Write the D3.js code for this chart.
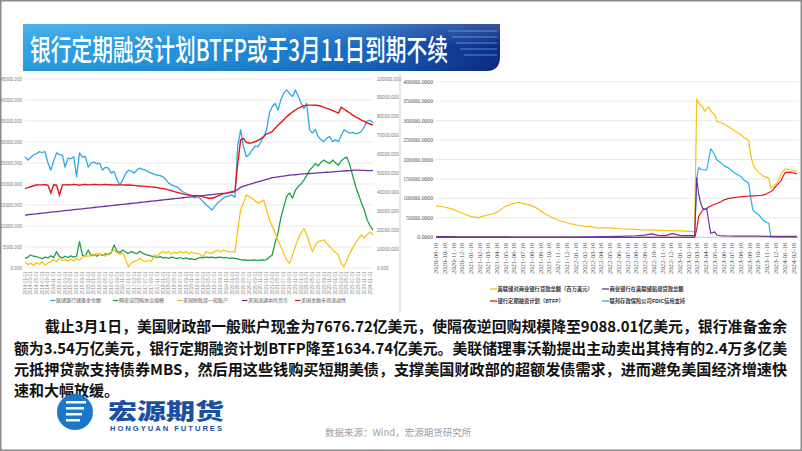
<!DOCTYPE html>
<html><head><meta charset="utf-8">
<script src="https://cdn.jsdelivr.net/npm/d3@7/dist/d3.min.js"></script>
<style>body{margin:0;background:#fff;}svg{display:block;}</style>
</head><body>
<svg id="c" width="802" height="451"></svg>
<script>
// ---------------- DATA ----------------
const titleText = "银行定期融资计划BTFP或于3月11日到期不续";
// left chart: monthly, 2014-01 .. 2024-02
const leftStart = "2014-01-01", leftEnd = "2024-02-01";
const leftSeriesNames = ["联储银行储备金余额","隔夜逆回购协议规模","美国财政部一般账户","美国流通中的货币","美国金融市场流动性"];
const reserves = [26500,25700,26300,26900,27200,27700,27500,27700,25000,23300,25500,27400,
 27000,26900,24000,26200,26000,26500,21700,27400,26400,26600,24000,25000,
 25200,24800,25000,23300,24000,23800,22600,23000,21000,19800,21000,22500,
 23300,23000,22600,23400,23800,23500,23300,22800,22600,22300,22100,22000,
 21700,21000,20200,19800,19500,19300,18700,18100,17800,17400,17000,16700,
 17000,16500,15800,15000,14500,13800,14600,15500,16000,16700,17000,17200,
 17400,16800,29000,32900,28900,26500,27000,28100,29000,28900,30000,31300,
 32900,37000,38400,39200,37600,40000,41600,42400,41500,40800,42400,41000,
 39200,38000,39200,32900,32100,33000,31300,30500,30100,31000,31300,30100,
 30500,30100,31500,32900,32500,32100,32300,32000,32100,32500,33600,35000,
 35200,34600];
const reverseRepo = [2300,2600,3100,2800,2700,2500,2200,2600,2400,2900,2500,3900,
 2700,2400,2800,2500,2900,2600,2800,6300,3000,2800,4300,2900,
 3200,2800,3300,3000,3400,3200,3600,5500,4000,3700,4300,3800,
 3500,3900,3600,3400,4000,3500,3200,3000,2800,2700,2500,2700,
 2400,2500,2300,2600,2400,2300,2500,2200,2400,2100,2200,2000,
 2300,2500,2400,2600,2500,2600,2400,2500,2600,2400,2500,2300,
 2400,2300,2200,2000,1900,1900,1800,1900,1900,1800,1900,1900,
 2000,2600,3100,6000,8300,12000,14500,17000,17900,16600,18500,19400,
 20000,21000,22000,23300,24000,24900,24300,25200,25700,25200,24900,25700,
 25000,24500,25500,26100,26400,24500,22000,19400,17500,15500,13800,11500,
 10000,9000];
const tga = [1500,800,1200,600,1300,900,1500,700,1200,1500,2000,1500,
 2300,1800,2000,1600,2100,1700,2300,1900,2500,3000,2700,3300,
 2900,3500,3100,3300,2800,3400,3800,4300,3600,3200,3700,2000,
 300,1200,1500,1800,2300,1700,1500,1900,1600,3100,2800,3500,
 3900,3600,3900,3300,3800,3500,3900,3600,3900,3400,3800,3500,
 3500,3200,2700,3900,3600,3500,3900,4300,3800,4300,4000,3900,
 3900,3800,9000,13800,15500,17400,17000,16600,16000,15400,15800,16200,
 13800,11400,10000,8300,6500,5100,3500,1900,1100,3000,5100,7000,
 8300,9400,8000,5900,3900,5500,6300,6500,6700,5800,5100,4300,
 3700,3100,1100,300,2000,3500,4800,5900,7000,7900,7100,8000,
 8600,7900];
const currency = [12600,12680,12750,12820,12900,12980,13050,13120,13200,13280,13350,13430,
 13500,13580,13650,13730,13800,13880,13950,14030,14100,14180,14250,14330,
 14400,14480,14550,14630,14700,14780,14850,14930,15000,15080,15150,15230,
 15300,15380,15450,15530,15600,15680,15750,15830,15900,15980,16050,16130,
 16200,16280,16350,16430,16500,16580,16650,16730,16800,16880,16950,17030,
 17100,17180,17250,17330,17400,17480,17550,17630,17700,17780,17850,17930,
 18000,18200,18700,19200,19500,19700,19900,20100,20300,20500,20700,20900,
 21100,21300,21500,21600,21700,21800,21900,22000,22100,22150,22200,22300,
 22350,22400,22450,22500,22550,22600,22650,22700,22750,22800,22850,22900,
 22950,23000,23050,23100,23150,23200,23250,23300,23300,23250,23250,23200,
 23200,23200];
// right axis (liquidity)
const liquidity = [42000,42500,43000,43500,43900,44000,44000,44200,43800,39700,44000,43800,
 38600,44000,44000,44100,44000,44200,44100,43800,44100,44200,44000,44100,
 44200,44100,44000,44100,44200,44000,44100,44000,43900,44000,44000,43900,
 43900,43800,43700,43500,43400,43300,43200,43000,42900,42700,42500,42200,
 42000,41700,41300,40900,40400,40000,39600,39200,38800,38600,38400,38200,
 38400,38000,37600,37200,36900,36900,37300,38000,38700,39300,39500,40000,
 40400,40600,55000,67700,68600,66500,66000,66300,66800,67500,68300,69500,
 71000,71500,72100,74000,75500,77000,78500,80000,81300,82500,83600,84500,
 85300,85800,86200,86200,86200,86100,86000,85600,85000,84500,83900,83300,
 82600,82000,85000,84000,83000,82000,80900,80000,79200,78300,77600,76800,
 76200,75600];
const leftTicksL = [0,5000,10000,15000,20000,25000,30000,35000,40000,45000];
const leftTicksR = [0,10000,20000,30000,40000,50000,60000,70000,80000,90000,100000];

// right chart
const rightDates = ["2020-09-16","2020-10-17","2020-11-10","2020-12-03","2020-12-26","2021-01-18","2021-02-10","2021-03-06","2021-03-29","2021-04-21",
 "2021-05-14","2021-06-07","2021-06-30","2021-07-23","2021-08-15","2021-09-07","2021-10-01","2021-10-24","2021-11-16","2021-12-09",
 "2022-01-01","2022-01-24","2022-02-17","2022-03-12","2022-04-04","2022-04-27","2022-06-19","2022-08-15","2022-09-13","2022-10-10",
 "2022-11-01","2022-11-25","2022-12-20","2023-01-15","2023-02-05","2023-03-01","2023-03-08","2023-03-15","2023-03-22","2023-03-29",
 "2023-04-05","2023-04-12","2023-04-19","2023-04-26","2023-05-03","2023-05-10","2023-05-17","2023-05-24","2023-06-07","2023-06-21",
 "2023-07-05","2023-07-19","2023-08-02","2023-08-16","2023-08-30","2023-09-06","2023-09-13","2023-09-20","2023-09-27","2023-10-04",
 "2023-10-18","2023-11-01","2023-11-15","2023-11-22","2023-11-29","2023-12-06","2023-12-13","2023-12-20","2023-12-27","2024-01-03",
 "2024-01-10","2024-01-17","2024-01-24","2024-01-31","2024-02-07","2024-02-14","2024-02-21","2024-02-28"];
const fedLoans = [81400,77300,73000,66000,59300,53100,50500,55700,59300,66000,
 78900,85900,90200,85900,81400,73000,60600,51500,44600,38600,
 34300,30900,28300,27300,23200,24800,22000,20500,18800,18500,
 18000,17500,17000,16500,16000,14400,15000,355700,345400,340000,
 335000,323800,330000,335100,325000,319600,315200,297900,295000,290000,
 284000,277000,270000,263700,255000,252600,246400,210000,190000,177800,
 167000,158000,154000,152200,126400,130000,135000,139300,150000,160700,
 168000,175400,175000,174000,173600,171000,170000,169300];
const discountLoans = [2000,1800,1500,1200,1000,1200,1000,1300,1100,1000,
 900,800,800,700,700,600,600,700,600,800,
 700,800,900,1000,1500,1800,2500,4000,5500,9000,
 5000,4500,9500,5000,4500,4500,4500,153000,110000,88000,
 74400,72000,74400,40000,10300,12000,14100,6000,4000,3500,
 3400,3200,3000,3000,2800,2800,3000,3000,3200,3000,
 2800,2600,2500,2500,2400,2400,2300,2300,2300,2200,
 2200,2200,2200,2300,2300,2300,2400,2400];
const btfp = [0,0,0,0,0,0,0,0,0,0,
 0,0,0,0,0,0,0,0,0,0,
 0,0,0,0,0,0,0,0,0,0,
 0,0,0,0,0,0,0,20000,53700,61800,
 70000,72000,74000,78000,80000,83000,85000,87000,91400,97000,
 100000,101500,103000,104000,105000,105500,106000,106200,106500,106700,
 107500,108400,112000,115000,118000,121200,128000,134000,139300,145000,
 156300,165000,167600,167000,167500,166000,164500,163100];
const fdic = [0,0,0,0,0,0,0,0,0,0,
 0,0,0,0,0,0,0,0,0,0,
 0,0,0,0,0,0,0,0,0,0,
 0,0,0,0,0,0,0,150000,179800,175000,
 173600,173000,173000,200000,227600,220000,212100,199200,192000,183000,
 177800,169300,162000,156300,145000,143300,137300,100000,70300,65000,
 57400,44500,38000,36000,0,0,0,0,0,0,
 0,0,0,0,0,0,0,0];
const rightTickLabels = ["2020-09-16","2020-10-16","2020-11-16","2020-12-16","2021-01-16","2021-02-16","2021-03-16","2021-04-16","2021-05-16","2021-06-16","2021-07-16","2021-08-16","2021-09-16","2021-10-16","2021-11-16","2021-12-16","2022-01-16","2022-02-16","2022-03-16","2022-04-16","2022-05-16","2022-06-16","2022-07-16","2022-08-16","2022-09-16","2022-10-16","2022-11-16","2022-12-16","2023-01-16","2023-02-16","2023-03-16","2023-04-16","2023-05-16","2023-06-16","2023-07-16","2023-08-16","2023-09-16","2023-10-16","2023-11-16","2023-12-16","2024-01-16","2024-02-16"];
const rightTicksY = [0,50000,100000,150000,200000,250000,300000,350000,400000];
const rightSeriesNames = ["美联储对商业银行贷款总额（百万美元）","商业银行在美联储贴现贷款总额","银行定期融资计划（BTFP）","联邦存款保险公司FDIC信用支持"];

const paragraph = [
 "截止3月1日，美国财政部一般账户现金为7676.72亿美元，使隔夜逆回购规模降至9088.01亿美元，银行准备金余",
 "额为3.54万亿美元，银行定期融资计划BTFP降至1634.74亿美元。美联储理事沃勒提出主动卖出其持有的2.4万多亿美",
 "元抵押贷款支持债券MBS，然后用这些钱购买短期美债，支撑美国财政部的超额发债需求，进而避免美国经济增速快",
 "速和大幅放缓。"];
const sourceText = "数据来源：Wind，宏源期货研究所";

// ---------------- DRAW ----------------
const svg = d3.select("#c");
const parse = d3.timeParse("%Y-%m-%d");
const CJK = "'Noto Sans CJK SC','Noto Sans',sans-serif";
svg.append("rect").attr("width",802).attr("height",451).attr("fill","#fff");

const defs = svg.append("defs");
const gr = defs.append("linearGradient").attr("id","bn").attr("x1",0).attr("x2",1).attr("y1",0).attr("y2",0);
[[0,"#2ba3e6"],[0.4,"#1d8ddb"],[0.7,"#1469c4"],[0.88,"#0e3f9e"],[1,"#0a2a85"]].forEach(s=>gr.append("stop").attr("offset",s[0]).attr("stop-color",s[1]));
const gr2 = defs.append("linearGradient").attr("id","bnv").attr("x1",0).attr("x2",0).attr("y1",0).attr("y2",1);
[[0,"#ffffff",0.18],[0.5,"#ffffff",0],[1,"#000000",0.08]].forEach(s=>gr2.append("stop").attr("offset",s[0]).attr("stop-color",s[1]).attr("stop-opacity",s[2]));

// banner
const bx0=23,by0=24,bx1=500,by1=71,rr=14;
const bpath = `M${bx0},${by0}H${bx1}V${by1-rr}Q${bx1},${by1} ${bx1-rr},${by1}H${bx0}Z`;
svg.append("path").attr("d",bpath).attr("fill","url(#bn)");
svg.append("path").attr("d",bpath).attr("fill","url(#bnv)");
[31,37,43,49,55].forEach((y,i)=>{
  svg.append("line").attr("x1",448+i*4).attr("x2",497).attr("y1",y).attr("y2",y)
   .attr("stroke","#6fb4ee").attr("stroke-opacity",0.35).attr("stroke-width",2);
});
svg.append("text").attr("x",30).attr("y",61).attr("fill","#fff")
  .attr("font-family",CJK).attr("font-size",29).attr("font-weight",500)
  .attr("textLength",418).attr("lengthAdjust","spacingAndGlyphs").text(titleText);

// ---- left chart ----
const L = {x0:25,x1:373,yTop:79,yBot:268};
const lDates = d3.timeMonth.range(parse(leftStart), d3.timeMonth.offset(parse(leftEnd),1));
const xL = d3.scaleTime().domain([parse(leftStart),parse(leftEnd)]).range([L.x0,L.x1]);
const yL = d3.scaleLinear().domain([0,45000]).range([L.yBot,L.yTop]);
const yR = d3.scaleLinear().domain([0,100000]).range([L.yBot,L.yTop]);
const gl = svg.append("g");
gl.selectAll("line.g").data(leftTicksL).join("line").attr("x1",L.x0).attr("x2",L.x1)
  .attr("y1",d=>yL(d)).attr("y2",d=>yL(d)).attr("stroke","#dcdcdc").attr("stroke-width",0.6);
gl.selectAll("text.l").data(leftTicksL).join("text").attr("x",22).attr("y",d=>yL(d)+1.5)
  .attr("text-anchor","end").attr("font-size",4.6).attr("fill","#777").attr("font-family","Arial,'Liberation Sans'")
  .text(d=>d3.format(".3f")(d));
gl.selectAll("text.r").data(leftTicksR).join("text").attr("x",377).attr("y",d=>yR(d)+1.5)
  .attr("text-anchor","start").attr("font-size",4.6).attr("fill","#777").attr("font-family","Arial,'Liberation Sans'")
  .text(d=>d3.format(".3f")(d));
// x labels
const lTickDates = lDates.filter((d,i)=>i%2===0);
gl.selectAll("text.x").data(lTickDates).join("text")
  .attr("transform",d=>`translate(${xL(d)+1.5},271.5) rotate(-90)`)
  .attr("text-anchor","end").attr("font-size",4.5).attr("fill","#888").attr("font-family","Arial,'Liberation Sans'")
  .text(d=>d3.timeFormat("%Y-%m-%d")(d));
const leftColors = ["#2ea8e2","#1aa04a","#f6c318","#7030a0","#e3141b"];
const lineL = d3.line().x((d,i)=>xL(lDates[i])).y(d=>yL(d));
const lineLR = d3.line().x((d,i)=>xL(lDates[i])).y(d=>yR(d));
[[reverseRepo,1],[tga,2],[currency,3],[reserves,0]].forEach(([s,ci])=>{
  gl.append("path").attr("d",lineL(s)).attr("fill","none").attr("stroke",leftColors[ci]).attr("stroke-width",1.3).attr("stroke-linejoin","round");
});
gl.append("path").attr("d",lineLR(liquidity)).attr("fill","none").attr("stroke",leftColors[4]).attr("stroke-width",1.4);
// legend
const lLegX = [50,113,177,242,295];
leftSeriesNames.forEach((n,i)=>{
  gl.append("line").attr("x1",lLegX[i]).attr("x2",lLegX[i]+5.5).attr("y1",300.5).attr("y2",300.5).attr("stroke",leftColors[i]).attr("stroke-width",1.3);
  gl.append("text").attr("x",lLegX[i]+6).attr("y",302.3).attr("font-size",5).attr("fill","#555").attr("font-family",CJK).text(n);
});

// ---- right chart ----
svg.append("line").attr("x1",400).attr("x2",400).attr("y1",74).attr("y2",312).attr("stroke","#cfcfcf").attr("stroke-width",1);
const R = {x0:436,x1:793.5,yTop:81.7,yBot:237.3};
const xRt = d3.scaleTime().domain([parse(rightTickLabels[0]),parse(rightTickLabels[rightTickLabels.length-1])]).range([R.x0,R.x1]);
const yRt = d3.scaleLinear().domain([0,400000]).range([R.yBot,R.yTop]);
const gr_ = svg.append("g");
gr_.selectAll("line.g").data(rightTicksY).join("line").attr("x1",436).attr("x2",799)
  .attr("y1",d=>yRt(d)).attr("y2",d=>yRt(d)).attr("stroke",d=>d===0?"#bbbbbb":"#e3e3e3").attr("stroke-width",0.8);
gr_.selectAll("text.y").data(rightTicksY).join("text").attr("x",433).attr("y",d=>yRt(d)+2)
  .attr("text-anchor","end").attr("font-size",5.7).attr("fill","#555").attr("font-family","'Liberation Serif',serif")
  .text(d=>d3.format(".4f")(d));
gr_.selectAll("text.x").data(rightTickLabels).join("text")
  .attr("transform",d=>`translate(${xRt(parse(d))+2.2},242.5) rotate(-90)`)
  .attr("text-anchor","end").attr("font-size",6.8).attr("fill","#555").attr("font-family","'Liberation Serif',serif")
  .text(d=>d);
const rD = rightDates.map(parse);
const lineR = d3.line().x((d,i)=>xRt(rD[i])).y(d=>yRt(d));
const rightColors = ["#f5c30f","#7030a0","#e8141c","#22b2e6"];
[[fdic,3],[fedLoans,0],[btfp,2],[discountLoans,1]].forEach(([s,ci])=>{
  gr_.append("path").attr("d",lineR(s)).attr("fill","none").attr("stroke",rightColors[ci]).attr("stroke-width",1.2).attr("stroke-linejoin","round");
});
const rLeg = [[490,289],[602,289],[490,301],[602,301]];
rightSeriesNames.forEach((n,i)=>{
  const [lx,ly]=rLeg[i];
  gr_.append("line").attr("x1",lx).attr("x2",lx+7).attr("y1",ly).attr("y2",ly).attr("stroke",rightColors[i]).attr("stroke-width",1.3);
  gr_.append("text").attr("x",lx+7.5).attr("y",ly+2).attr("font-size",5.3).attr("fill","#333").attr("font-family",CJK).attr("font-weight",700).text(n);
});

// ---- paragraph ----
const pLines = [[45,332,787],[14,354,787],[14,375,787],[14,396,null]];
paragraph.forEach((t,i)=>{
  const [x,y,xe]=pLines[i];
  const tx = svg.append("text").attr("x",x).attr("y",y).attr("font-family",CJK).attr("font-weight",700)
    .attr("font-size",15).attr("fill","#111").text(t);
  if(xe) tx.attr("textLength",xe-x).attr("lengthAdjust","spacingAndGlyphs");
});

// ---- logo ----
const lg = svg.append("g");
lg.append("circle").attr("cx",75).attr("cy",412).attr("r",18).attr("fill","#1c77c9");
[[-9,4],[-3,4],[3,4],[9,4]].forEach(([dy,h],i)=>{
  lg.append("rect").attr("x",66).attr("y",412+dy-h/2).attr("width",20-i*2).attr("height",h-1.5).attr("fill","#fff");
});
lg.append("text").attr("x",108).attr("y",419).attr("font-family",CJK).attr("font-weight",900).attr("font-size",22).attr("fill","#1a4fa3")
  .attr("textLength",116).attr("lengthAdjust","spacingAndGlyphs").text("宏源期货");
lg.append("text").attr("x",110).attr("y",431).attr("font-family","Arial,'Liberation Sans'").attr("font-weight",700).attr("font-size",7.6).attr("fill","#1a4fa3")
  .attr("textLength",112).text("HONGYUAN FUTURES");
svg.append("text").attr("x",325).attr("y",436).attr("font-family",CJK).attr("font-size",9.5).attr("fill","#a0a0a0").text(sourceText);

// border
svg.append("rect").attr("x",0.75).attr("y",0.75).attr("width",800.5).attr("height",449.5).attr("fill","none").attr("stroke","#8a8a8a").attr("stroke-width",1.5);
</script>
</body></html>
